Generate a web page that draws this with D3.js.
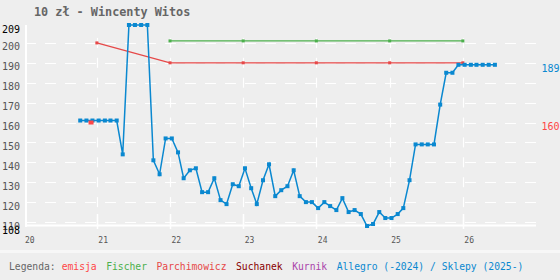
<!DOCTYPE html>
<html>
<head>
<meta charset="utf-8">
<script src="https://cdn.jsdelivr.net/npm/d3@7"></script>
<style>
  html, body { margin: 0; padding: 0; background: #eeeeee; }
  svg { display: block; }
  text { font-family: "DejaVu Sans Mono", "Liberation Mono", monospace; }
</style>
</head>
<body>
<svg id="chart" width="560" height="280"></svg>
<script>
// Allegro (-2024) / Sklepy (2025-) - one price per month, starting Oct 2020
const allegroStart = "2020-10-10";
const allegroValues = [
  161, 161, 161, 161, 161, 161, 161, 144, 209, 209, 209, 209,
  141, 134, 152, 152, 145, 132, 136, 137, 125, 125, 132, 121,
  119, 129, 128, 137, 127, 119, 131, 139, 123, 126, 128, 136,
  123, 120, 120, 117, 120, 118, 116, 122, 115, 116, 114, 108,
  109, 115, 112, 112, 114, 117, 131, 149, 149, 149, 149, 169,
  185, 185, 189, 189, 189, 189, 189, 189, 189
];

// Parchimowicz catalogue
const parchDates = ["2021-01-01", "2022-01-01", "2023-01-01", "2024-01-01", "2025-01-01", "2026-01-01"];
const parchValues = [200, 190, 190, 190, 190, 190];

// Fischer catalogue
const fischerDates = ["2022-01-01", "2023-01-01", "2024-01-01", "2025-01-01", "2026-01-01"];
const fischerValues = [201, 201, 201, 201, 201];

// emisja (issue price)
const emisjaDate = "2020-12-03";
const emisjaValue = 160;

const yTicks = [110, 120, 130, 140, 150, 160, 170, 180, 190, 200];
const yearTicks = ["2020", "2021", "2022", "2023", "2024", "2025", "2026"];

const legendItems = [
  { name: "emisja", color: "#ff4646" },
  { name: "Fischer", color: "#4cb04c" },
  { name: "Parchimowicz", color: "#e64848" },
  { name: "Suchanek", color: "#880000" },
  { name: "Kurnik", color: "#aa44aa" },
  { name: "Allegro (-2024) / Sklepy (2025-)", color: "#0a88d0" }
];

const parse = d3.utcParse("%Y-%m-%d");
const parseYear = d3.utcParse("%Y");

const allegroDates = d3.utcMonth.range(d3.utcMonth.floor(parse(allegroStart)), d3.utcMonth.offset(parse(allegroStart), allegroValues.length))
  .map(d => d3.utcDay.offset(d, 9));
const allegro = allegroValues.map((v, i) => ({ date: allegroDates[i], value: v }));
const parch = parchValues.map((v, i) => ({ date: parse(parchDates[i]), value: v }));
const fischer = fischerValues.map((v, i) => ({ date: parse(fischerDates[i]), value: v }));

const yMin = d3.min([...allegroValues, ...parchValues, ...fischerValues, emisjaValue]);
const yMax = d3.max([...allegroValues, ...parchValues, ...fischerValues, emisjaValue]);

const svg = d3.select("#chart");
const left = 26, right = 536;

const x = d3.scaleUtc()
  .domain([parseYear("2020"), parseYear("2027")])
  .range([23.5, 536]);
const y = d3.scaleLinear()
  .domain([yMin, yMax])
  .range([226, 25]);

// title
svg.append("text")
  .attr("x", 34).attr("y", 16)
  .attr("font-size", "11.8px").attr("font-weight", "bold")
  .attr("fill", "#666")
  .text("10 zł - Wincenty Witos");

// horizontal grid
svg.append("g").selectAll("line")
  .data(yTicks)
  .join("line")
  .attr("x1", 25).attr("x2", right)
  .attr("y1", d => Math.round(y(d)) + 0.5).attr("y2", d => Math.round(y(d)) + 0.5)
  .attr("stroke", "#fff").attr("stroke-width", 1.2)
  .attr("stroke-dasharray", "11,9");

// vertical grid (short crosses at each gridline)
const crosses = [];
yearTicks.slice(1).forEach(yr => yTicks.forEach(v => crosses.push({ yr, v })));
svg.append("g").selectAll("line")
  .data(crosses)
  .join("line")
  .attr("x1", d => Math.round(x(parseYear(d.yr))) + 0.5)
  .attr("x2", d => Math.round(x(parseYear(d.yr))) + 0.5)
  .attr("y1", d => y(d.v) - 5).attr("y2", d => y(d.v) + 5)
  .attr("stroke", "#fff").attr("stroke-width", 1.2);

// x ticks below the axis
svg.append("g").selectAll("line")
  .data(yearTicks.slice(1))
  .join("line")
  .attr("x1", d => Math.round(x(parseYear(d))) + 0.5)
  .attr("x2", d => Math.round(x(parseYear(d))) + 0.5)
  .attr("y1", 214).attr("y2", 229)
  .attr("stroke", "#fff").attr("stroke-width", 1.5);

// axis lines
svg.append("line")
  .attr("x1", left).attr("x2", left).attr("y1", 25).attr("y2", 227)
  .attr("stroke", "#fff").attr("stroke-width", 2);
svg.append("line")
  .attr("x1", left).attr("x2", right).attr("y1", 225.5).attr("y2", 225.5)
  .attr("stroke", "#fff").attr("stroke-width", 2);

// y labels
svg.append("g").selectAll("text")
  .data(yTicks)
  .join("text")
  .attr("x", 20).attr("y", d => y(d) + 7.5)
  .attr("text-anchor", "end")
  .attr("font-size", "10px").attr("fill", "#555")
  .text(d => d);
svg.append("g").selectAll("text")
  .data([yMax, yMin])
  .join("text")
  .attr("x", 20).attr("y", d => y(d) + 7.5)
  .attr("text-anchor", "end")
  .attr("font-size", "10px").attr("fill", "#000")
  .text(d => d);

// x labels
svg.append("g").selectAll("text")
  .data(yearTicks)
  .join("text")
  .attr("x", d => x(parseYear(d)) + 1.5).attr("y", 242.5)
  .attr("font-size", "8px").attr("fill", "#555")
  .text(d => d3.utcFormat("%y")(parseYear(d)));

const line = d3.line().x(d => x(d.date)).y(d => y(d.value));

function drawSeries(data, color, width, size) {
  svg.append("path")
    .datum(data)
    .attr("d", line)
    .attr("fill", "none")
    .attr("stroke", color)
    .attr("stroke-width", width);
  svg.append("g").selectAll("rect")
    .data(data)
    .join("rect")
    .attr("x", d => x(d.date) - size / 2)
    .attr("y", d => y(d.value) - size / 2)
    .attr("width", size).attr("height", size)
    .attr("fill", color);
}

drawSeries(fischer, "#4cb04c", 1.2, 3);
drawSeries(parch, "#e64848", 1.2, 3);
drawSeries(allegro, "#0a88d0", 1.5, 4);

// emisja marker
svg.append("rect")
  .attr("x", x(parse(emisjaDate)) - 2.5)
  .attr("y", y(emisjaValue) - 2)
  .attr("width", 5).attr("height", 4)
  .attr("fill", "#ff4646");

// right side labels (last values)
svg.append("text")
  .attr("x", 541.5).attr("y", y(allegroValues[allegroValues.length - 1]) + 7.5)
  .attr("font-size", "10px").attr("fill", "#0a88d0")
  .text(allegroValues[allegroValues.length - 1]);
svg.append("text")
  .attr("x", 541.5).attr("y", y(emisjaValue) + 7.5)
  .attr("font-size", "10px").attr("fill", "#ff4646")
  .text(emisjaValue);

// legend
svg.append("rect")
  .attr("x", 0).attr("y", 250).attr("width", 560).attr("height", 3)
  .attr("fill", "#f7f7f7");
const legend = svg.append("text")
  .attr("x", 9).attr("y", 270)
  .attr("font-size", "9.7px");
legend.append("tspan").attr("fill", "#666").text("Legenda:");
legendItems.forEach((d, i) => {
  legend.append("tspan")
    .attr("dx", i === 0 ? 6 : 9.5)
    .attr("fill", d.color)
    .text(d.name);
});
</script>
</body>
</html>
